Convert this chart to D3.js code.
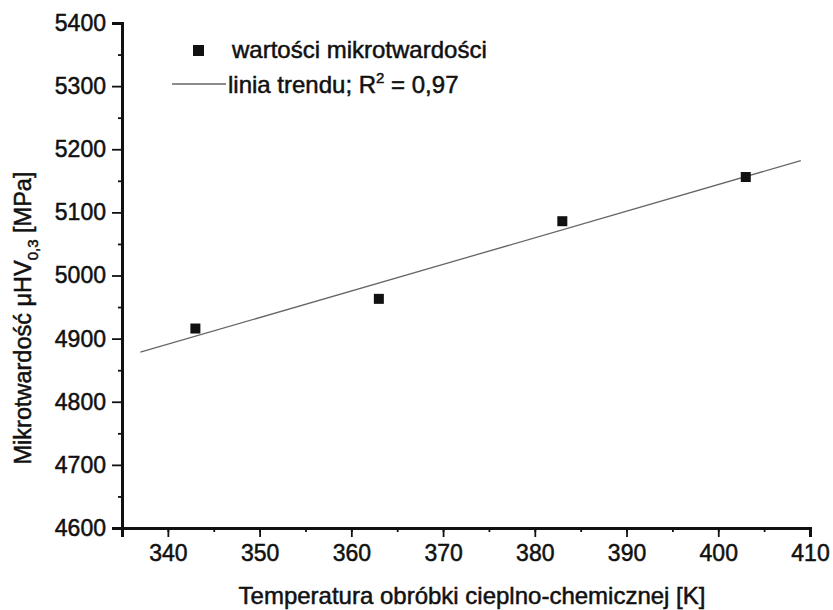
<!DOCTYPE html>
<html>
<head>
<meta charset="utf-8">
<script src="https://d3js.org/d3.v7.min.js"></script>
<style>
	body { margin: 0; background: #fff; }
	text { font-family: "Liberation Sans", Arial, sans-serif; fill: #111; stroke: #111; stroke-width: 0.5px; }
</style>
</head>
<body>
<div id="chart-area"></div>
<script>

// dane
var temperatures = [343, 363, 383, 403];
var hardness = [4916, 4963, 5086, 5156];
var xTicks = [340, 350, 360, 370, 380, 390, 400, 410];
var yTicks = [4600, 4700, 4800, 4900, 5000, 5100, 5200, 5300, 5400];
var trendRange = [337, 409];
var legendLabels = ["wartości mikrotwardości", "linia trendu; R", " = 0,97"];

var margin = { left:122, right:23, top:23, bottom:82 };

var width = 833 - margin.left - margin.right,
	height = 610 - margin.top - margin.bottom;

var svg = d3.select("#chart-area")
	.append("svg")
		.attr("width", 833)
		.attr("height", 610);

var g = svg.append("g")
		.attr("transform", "translate(" + margin.left + ", " + margin.top + ")");

var data = temperatures.map(function(t, i){ return { t: t, hv: hardness[i] }; });

// skale
var x = d3.scaleLinear()
	.domain([335, 410])
	.range([0, width]);

var y = d3.scaleLinear()
	.domain([4600, 5400])
	.range([height, 0]);

// linia trendu - regresja liniowa
var mt = d3.mean(data, function(d){ return d.t; }),
	mh = d3.mean(data, function(d){ return d.hv; });
var sxy = d3.sum(data, function(d){ return (d.t - mt) * (d.hv - mh); }),
	sxx = d3.sum(data, function(d){ return (d.t - mt) * (d.t - mt); });
var slope = sxy / sxx,
	icpt = mh - slope * mt;

g.append("line")
	.attr("x1", x(trendRange[0]))
	.attr("y1", y(icpt + slope * trendRange[0]))
	.attr("x2", x(trendRange[1]))
	.attr("y2", y(icpt + slope * trendRange[1]))
	.attr("stroke", "#666")
	.attr("stroke-width", 1.3);

// punkty
g.selectAll("rect.pt")
	.data(data)
	.enter()
	.append("rect")
		.attr("class", "pt")
		.attr("x", function(d){ return x(d.t) - 5; })
		.attr("y", function(d){ return y(d.hv) - 5; })
		.attr("width", 10)
		.attr("height", 10)
		.attr("fill", "#111");

// osie - podzialka pomocnicza
var xMinor = d3.axisBottom(x)
	.tickValues(d3.range(335, 411, 5))
	.tickSize(4)
	.tickFormat("");
g.append("g")
	.attr("transform", "translate(0," + height + ")")
	.call(xMinor);

var yMinor = d3.axisLeft(y)
	.tickValues(d3.range(4650, 5400, 100))
	.tickSize(4)
	.tickFormat("");
g.append("g")
	.call(yMinor);

var xAxisCall = d3.axisBottom(x)
	.tickValues(xTicks)
	.tickSize(9)
	.tickPadding(8);
var xAxis = g.append("g")
	.attr("class", "x axis")
	.attr("transform", "translate(0," + height + ")")
	.call(xAxisCall);

var yAxisCall = d3.axisLeft(y)
	.tickValues(yTicks)
	.tickFormat(d3.format("d"))
	.tickSize(10)
	.tickPadding(6);
var yAxis = g.append("g")
	.attr("class", "y axis")
	.call(yAxisCall);

g.selectAll(".tick line").attr("stroke", "#111").attr("stroke-width", 1.8);
g.selectAll(".domain").attr("stroke", "#111").attr("stroke-width", 3);
g.selectAll(".tick text")
	.attr("font-size", "23px")
	.attr("font-family", "\"Liberation Sans\", Arial, sans-serif")
	.attr("fill", "#111");

// tytuly osi
svg.append("text")
	.attr("x", 472)
	.attr("y", 604)
	.attr("font-size", "24px")
	.attr("text-anchor", "middle")
	.text("Temperatura obróbki cieplno-chemicznej [K]");

var yl = svg.append("text")
	.attr("transform", "translate(31, 318) rotate(-90)")
	.attr("font-size", "23.5px")
	.attr("text-anchor", "middle");
yl.append("tspan").text("Mikrotwardość μHV");
yl.append("tspan").attr("font-size", "15px").attr("dy", 7).text("0,3");
yl.append("tspan").attr("dy", -7).text(" [MPa]");

// legenda
svg.append("rect")
	.attr("x", 193).attr("y", 45)
	.attr("width", 11).attr("height", 11)
	.attr("fill", "#111");
svg.append("text")
	.attr("x", 232).attr("y", 58)
	.attr("font-size", "24px")
	.text(legendLabels[0]);

svg.append("line")
	.attr("x1", 172).attr("x2", 226)
	.attr("y1", 84).attr("y2", 84)
	.attr("stroke", "#666")
	.attr("stroke-width", 1.3);
var lt = svg.append("text")
	.attr("x", 228).attr("y", 93)
	.attr("font-size", "24px");
lt.append("tspan").text(legendLabels[1]);
lt.append("tspan").attr("font-size", "15px").attr("dy", -10).text("2");
lt.append("tspan").attr("dy", 10).text(legendLabels[2]);

</script>
</body>
</html>
